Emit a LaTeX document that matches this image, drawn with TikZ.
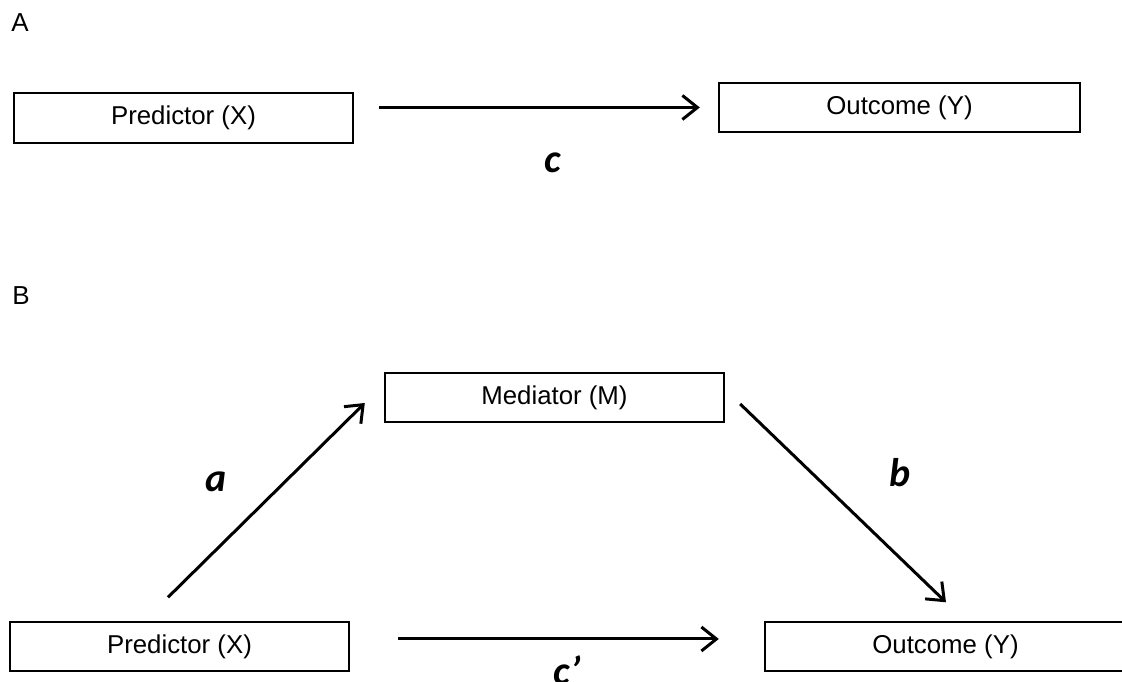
\documentclass[tikz,border=0pt]{standalone}
\usepackage{fontspec}
\setmainfont{Liberation Sans}
\newfontfamily\lblfont{Carlito}
\usetikzlibrary{arrows.meta}
\tikzset{
  box/.style={draw=black, line width=2.4pt, minimum width=339pt, minimum height=49pt, inner sep=0pt,
    font=\fontsize{25.8}{30}\selectfont},
  wbox/.style={box, minimum width=361pt},
  arr/.style={line width=3pt, -{Straight Barb[length=15pt,width=24pt,line width=3pt]}},
  coef/.style={font=\lblfont\bfseries\itshape\fontsize{40}{46}\selectfont, inner sep=0pt},
  panel/.style={font=\fontsize{26}{30}\selectfont, inner sep=0pt}
}
\begin{document}
\begin{tikzpicture}[x=1pt,y=1pt]
\useasboundingbox (0,0) rectangle (1122,682);
% Panel A
\node[panel] (labA) at (20,659) {A};
\node[box, minimum height=50pt] (PA) at (183.5,564) {Predictor (X)};
\node[wbox] (OA) at (899.5,574.5) {Outcome (Y)};
\draw[arr] ([xshift=25pt]PA.east |- OA.west) -- ([xshift=-18pt]OA.west);
\node[coef] (cA) at (553,519) {c};
% Panel B
\node[panel] (labB) at (21,386) {B};
\node[box] (M) at (554.5,284.5) {Mediator (M)};
\node[box] (PB) at (179.5,35.5) {Predictor (X)};
\node[wbox] (OB) at (945.5,35.5) {Outcome (Y)};
\draw[arr] ([shift={(-11.5pt,23.5pt)}]PB.north) -- ([shift={(-19pt,-5.5pt)}]M.west);
\draw[arr] ([shift={(15pt,-6.5pt)}]M.east) -- ([shift={(0.5pt,18.5pt)}]OB.north);
\draw[arr] ([shift={(48pt,7.5pt)}]PB.east) -- ([shift={(-45pt,7.5pt)}]OB.west);
\node[coef] (la) at (216,200) {a};
\node[coef] (lb) at (900,209) {b};
\node[coef, anchor=base] (lc) at (567,-3) {c’};
\end{tikzpicture}
\end{document}
